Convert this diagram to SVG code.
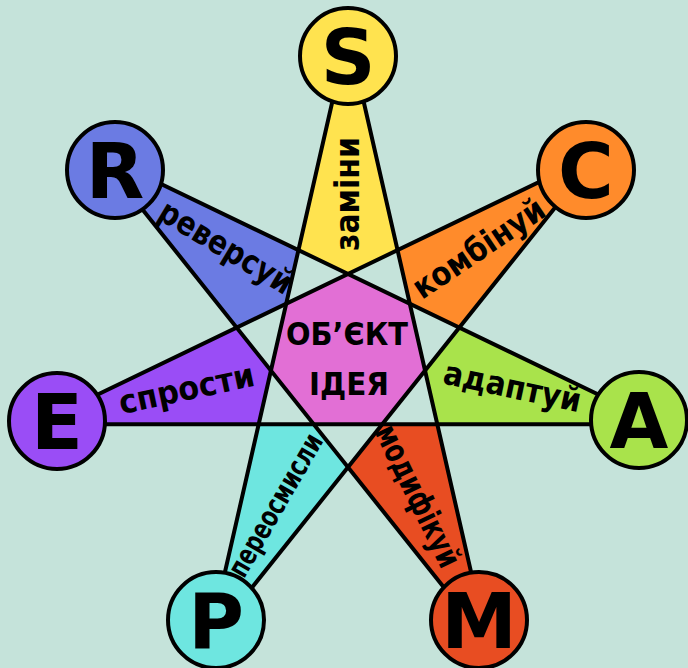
<svg xmlns="http://www.w3.org/2000/svg" width="688" height="668" viewBox="0 0 688 668">
<style>
.kite{stroke:none}
.ln{stroke:#000;stroke-width:4;fill:none;stroke-linecap:round}
.nc{stroke:#000;stroke-width:4}
.big{font-family:"DejaVu Sans","Liberation Sans",sans-serif;font-weight:bold;font-size:76px;text-anchor:middle;fill:#000}
.lbl{font-family:"DejaVu Sans","Liberation Sans",sans-serif;font-weight:bold;font-size:33px;text-anchor:middle;fill:#000}
.ctr{font-family:"DejaVu Sans","Liberation Sans",sans-serif;font-weight:bold;font-size:32px;text-anchor:middle;fill:#000}
</style>
<rect width="688" height="668" fill="#C5E3DA"/>
<g id="star-points">
<polygon class="kite" fill="#FFE34F" points="348,33 397.55,250.1 348,273.97 298.45,250.1"/>
<polygon class="kite" fill="#FF8B2B" points="598.19,153.48 459.35,327.59 409.79,303.73 397.55,250.1"/>
<polygon class="kite" fill="#A9E34B" points="659.98,424.21 437.29,424.21 425.05,370.59 459.35,327.59"/>
<polygon class="kite" fill="#E84D22" points="486.84,641.31 348,467.21 382.29,424.2 437.29,424.21"/>
<polygon class="kite" fill="#6EE6E0" points="209.16,641.31 258.71,424.21 313.71,424.2 348,467.21"/>
<polygon class="kite" fill="#9A4DF6" points="36.02,424.21 236.65,327.59 270.95,370.59 258.71,424.21"/>
<polygon class="kite" fill="#6B7BE3" points="97.81,153.48 298.45,250.1 286.21,303.73 236.65,327.59"/>
</g>
<g id="center">
<polygon fill="#E26FD5" points="348,273.97 409.79,303.73 425.05,370.59 382.29,424.2 313.71,424.2 270.95,370.59 286.21,303.73"/>
<text class="ctr" x="347" y="345" textLength="122" lengthAdjust="spacingAndGlyphs">ОБ’ЄКТ</text>
<text class="ctr" x="349" y="395" textLength="80" lengthAdjust="spacingAndGlyphs">ІДЕЯ</text>
</g>
<g id="connectors">
<line class="ln" x1="348" y1="33" x2="486.84" y2="641.31"/>
<line class="ln" x1="348" y1="33" x2="209.16" y2="641.31"/>
<line class="ln" x1="598.19" y1="153.48" x2="209.16" y2="641.31"/>
<line class="ln" x1="598.19" y1="153.48" x2="36.02" y2="424.21"/>
<line class="ln" x1="659.98" y1="424.21" x2="36.02" y2="424.21"/>
<line class="ln" x1="659.98" y1="424.21" x2="97.81" y2="153.48"/>
<line class="ln" x1="486.84" y1="641.31" x2="97.81" y2="153.48"/>
</g>
<g id="node-S">
<circle class="nc" cx="348" cy="56" r="48" fill="#FFE34F"/>
<text class="big" x="348" y="84">S</text>
<text class="lbl" transform="translate(349.5,194) rotate(-90)" y="9" textLength="114" lengthAdjust="spacingAndGlyphs">заміни</text>
</g>
<g id="node-C">
<circle class="nc" cx="586" cy="170" r="48" fill="#FF8B2B"/>
<text class="big" x="586" y="198">C</text>
<text class="lbl" transform="translate(480,250) rotate(-34)" y="9" textLength="152" lengthAdjust="spacingAndGlyphs">комбінуй</text>
</g>
<g id="node-A">
<circle class="nc" cx="639" cy="420" r="48" fill="#A9E34B"/>
<text class="big" x="639" y="448">A</text>
<text class="lbl" transform="translate(512,389) rotate(12)" y="9" textLength="140" lengthAdjust="spacingAndGlyphs">адаптуй</text>
</g>
<g id="node-M">
<circle class="nc" cx="479" cy="620" r="48" fill="#E84D22"/>
<text class="big" x="479" y="648">M</text>
<text class="lbl" transform="translate(416,497) rotate(64)" y="9" textLength="154" lengthAdjust="spacingAndGlyphs">модифікуй</text>
</g>
<g id="node-P">
<circle class="nc" cx="216" cy="620" r="48" fill="#6EE6E0"/>
<text class="big" x="216" y="648">P</text>
<text class="lbl" style="font-size:29px" transform="translate(277,506) rotate(-60)" y="8" textLength="160" lengthAdjust="spacingAndGlyphs">переосмисли</text>
</g>
<g id="node-E">
<circle class="nc" cx="57" cy="421" r="48" fill="#9A4DF6"/>
<text class="big" x="57" y="449">E</text>
<text class="lbl" transform="translate(187,391) rotate(-12)" y="9" textLength="138" lengthAdjust="spacingAndGlyphs">спрости</text>
</g>
<g id="node-R">
<circle class="nc" cx="115" cy="170" r="48" fill="#6B7BE3"/>
<text class="big" x="115" y="198">R</text>
<text class="lbl" transform="translate(225,249) rotate(31)" y="9" textLength="150" lengthAdjust="spacingAndGlyphs">реверсуй</text>
</g>
</svg>
